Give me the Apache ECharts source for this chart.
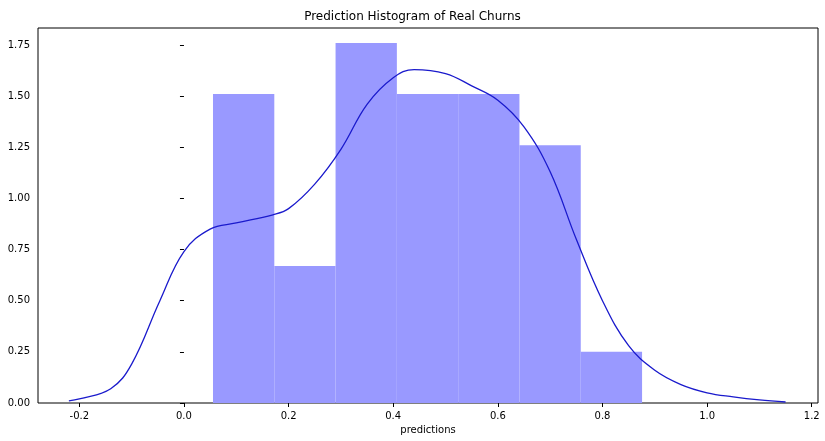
<!DOCTYPE html>
<html>
<head>
<meta charset="utf-8">
<script src="https://cdn.jsdelivr.net/npm/echarts@6/dist/echarts.min.js"></script>
<style>html,body{margin:0;padding:0;background:#fff}#main{width:825px;height:441px}</style>
</head>
<body>
<div id="main"></div>
<script>
// histogram bins (edges) and densities
var binEdges = [0.0555, 0.1727, 0.2898, 0.4070, 0.5242, 0.6413, 0.7585, 0.8757];
var binHeights = [1.51, 0.67, 1.76, 1.51, 1.51, 1.26, 0.25];
// KDE curve
var kdeX = [-0.22, -0.2, -0.14, -0.1, -0.046, 0.0, 0.05, 0.1, 0.17, 0.2, 0.25, 0.3, 0.35, 0.4, 0.44, 0.5, 0.55, 0.6, 0.65, 0.7, 0.75, 0.8, 0.85, 0.9, 0.95, 1.0, 1.05, 1.1, 1.15];
var kdeY = [0.01, 0.02, 0.07, 0.19, 0.5, 0.74, 0.85, 0.88, 0.92, 0.95, 1.07, 1.24, 1.46, 1.59, 1.63, 1.61, 1.55, 1.48, 1.35, 1.13, 0.8, 0.5, 0.28, 0.16, 0.09, 0.05, 0.03, 0.015, 0.005];
var xTicks = [-0.2, 0.0, 0.2, 0.4, 0.6, 0.8, 1.0, 1.2];
var yTicks = [0, 0.25, 0.5, 0.75, 1.0, 1.25, 1.5, 1.75];

var bars = binHeights.map(function(h, i) { return [binEdges[i], binEdges[i + 1], h]; });
var curve = kdeX.map(function(x, i) { return [x, kdeY[i]]; });

var chart = echarts.init(document.getElementById('main'));
chart.setOption({
	animation: false,
	title: {
		text: 'Prediction Histogram of Real Churns',
		left: 'center',
		top: 6,
		textStyle: { fontSize: 12, fontWeight: 'normal', color: '#000', fontFamily: 'DejaVu Sans' }
	},
	grid: { left: 38, right: 7, top: 28, bottom: 38, show: true, borderColor: '#000', borderWidth: 1 },
	xAxis: {
		type: 'value', min: -0.279, max: 1.212,
		name: 'predictions', nameLocation: 'middle', nameGap: 22,
		nameTextStyle: { fontSize: 10, color: '#000', fontFamily: 'DejaVu Sans' },
		splitLine: { show: false },
		axisLine: { show: false },
		axisTick: { show: true, length: 4, lineStyle: { color: '#000' }, customValues: xTicks },
		axisLabel: { fontSize: 10, color: '#000', fontFamily: 'DejaVu Sans', customValues: xTicks,
			formatter: function(v) { return v.toFixed(1); } }
	},
	yAxis: {
		type: 'value', min: 0, max: 1.833,
		splitLine: { show: false },
		axisLine: { show: false },
		axisTick: { show: true, length: 4, lineStyle: { color: '#000' }, customValues: yTicks },
		axisLabel: { fontSize: 10, color: '#000', fontFamily: 'DejaVu Sans', customValues: yTicks,
			formatter: function(v) { return v.toFixed(2); } }
	},
	series: [{
		type: 'custom',
		data: bars,
		renderItem: function(params, api) {
			var p0 = api.coord([api.value(0), api.value(2)]);
			var p1 = api.coord([api.value(1), 0]);
			return {
				type: 'rect',
				shape: { x: p0[0], y: p0[1], width: p1[0] - p0[0], height: p1[1] - p0[1] },
				style: { fill: '#9999ff' }
			};
		}
	}, {
		type: 'line',
		data: curve,
		smooth: 0.4,
		showSymbol: false,
		lineStyle: { color: '#1a1acc', width: 1.3 }
	}]
});
</script>
</body>
</html>
